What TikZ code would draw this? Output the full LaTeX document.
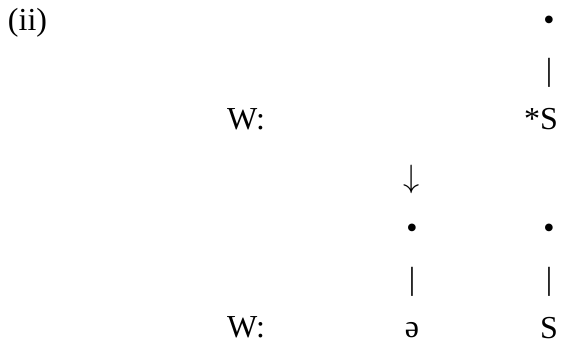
\documentclass[tikz,border=0pt]{standalone}
\usepackage{fontspec}
\setmainfont{Liberation Serif}
\begin{document}
\begin{tikzpicture}[x=1pt,y=-1pt,
  lbl/.style={inner sep=0pt, outer sep=0pt, font=\fontsize{32}{38}\selectfont}]
\useasboundingbox (0,0) rectangle (566,342);
\node[lbl, anchor=west] (ex) at (8,23) {(ii)};
\node[lbl] (b0) at (549,23) {•};
\node[lbl] (l0) at (549,73) {|};
\node[lbl] (w1) at (246,119) {W:};
\node[lbl, anchor=base] (s1) at (549,130) {\llap{*}S};
\node[lbl] (ar) at (412,179) {\scalebox{1.3}{$\downarrow$}};
\node[lbl] (b1) at (412,231) {•};
\node[lbl] (b2) at (549,231) {•};
\node[lbl] (l1) at (412,282) {|};
\node[lbl] (l2) at (549,282) {|};
\node[lbl] (w2) at (246,327) {W:};
\node[lbl] (sw) at (412,330) {ə};
\node[lbl, anchor=base] (s2) at (549,338) {S};
\end{tikzpicture}
\end{document}
